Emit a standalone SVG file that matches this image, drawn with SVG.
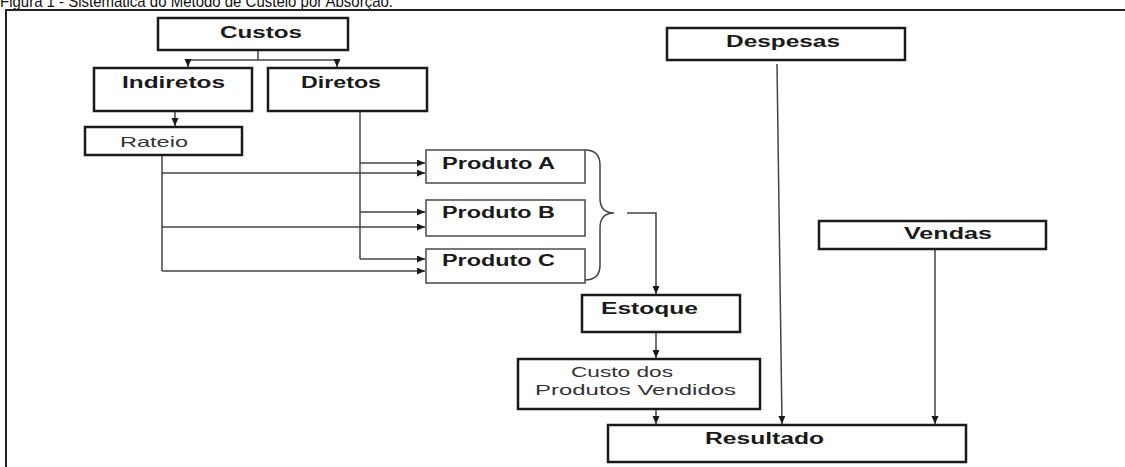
<svg xmlns="http://www.w3.org/2000/svg" width="1125" height="467" viewBox="0 0 1125 467">
<style>
.box{fill:#fff;stroke:#1a1a1a;stroke-width:2.5}
.pbox{fill:#fff;stroke:#555;stroke-width:1.6}
.b{font-family:"Liberation Sans",Arial,sans-serif;font-weight:bold;font-size:16px;fill:#1a1a1a}
.r{font-family:"Liberation Sans",Arial,sans-serif;font-size:15px;fill:#333}
.c{fill:none;stroke:#444;stroke-width:1.5}
</style>
<defs>
<marker id="ah" markerUnits="userSpaceOnUse" markerWidth="9" markerHeight="8" refX="8" refY="3.5" orient="auto">
<path d="M0,0 L8,3.5 L0,7 z" fill="#1a1a1a"/>
</marker>
</defs>
<rect width="1125" height="467" fill="#fff"/>
<text x="0" y="7" font-family="'Liberation Sans',Arial,sans-serif" font-size="17" fill="#111" textLength="393" lengthAdjust="spacingAndGlyphs">Figura 1 - Sistemática do Método de Custeio por Absorção.</text>
<path d="M6,467 V10 H1125" fill="none" stroke="#222" stroke-width="2"/>

<g id="connectors">
<path class="c" d="M258,50 V60 M188,60 H337"/>
<path class="c" d="M188,60 V67" marker-end="url(#ah)"/>
<path class="c" d="M337,60 V67" marker-end="url(#ah)"/>
<path class="c" d="M175,111 V126" marker-end="url(#ah)"/>
<path class="c" d="M162,155 V271"/>
<path class="c" d="M162,173 H425" marker-end="url(#ah)"/>
<path class="c" d="M162,227 H425" marker-end="url(#ah)"/>
<path class="c" d="M162,271 H425" marker-end="url(#ah)"/>
<path class="c" d="M360,111 V259"/>
<path class="c" d="M360,163 H425" marker-end="url(#ah)"/>
<path class="c" d="M360,212 H425" marker-end="url(#ah)"/>
<path class="c" d="M360,259 H425" marker-end="url(#ah)"/>
<path class="c" d="M585,150 Q600,150 600,165 V198 Q600,213 614,213 Q600,213 600,228 V265 Q600,280 585,280"/>
<path class="c" d="M627,213 H656 V294" marker-end="url(#ah)"/>
<path class="c" d="M656,332 V358" marker-end="url(#ah)"/>
<path class="c" d="M656,409 V424" marker-end="url(#ah)"/>
<path class="c" d="M777,64 L782,424" marker-end="url(#ah)"/>
<path class="c" d="M935,249 V424" marker-end="url(#ah)"/>
</g>

<g id="custos"><rect class="box" x="158" y="18" width="190" height="32"/><text class="b" x="220" y="38" textLength="82" lengthAdjust="spacingAndGlyphs">Custos</text></g>
<g id="indiretos"><rect class="box" x="94" y="68" width="158" height="43"/><text class="b" x="122" y="88" textLength="103" lengthAdjust="spacingAndGlyphs">Indiretos</text></g>
<g id="diretos"><rect class="box" x="268" y="68" width="159" height="43"/><text class="b" x="301" y="88" textLength="80" lengthAdjust="spacingAndGlyphs">Diretos</text></g>
<g id="rateio"><rect class="box" x="85" y="127" width="157" height="28"/><text class="r" x="120" y="147" font-size="16" textLength="68" lengthAdjust="spacingAndGlyphs">Rateio</text></g>
<g id="produto-a"><rect class="pbox" x="426" y="150" width="159" height="33"/><text class="b" x="442" y="169" textLength="113" lengthAdjust="spacingAndGlyphs">Produto A</text></g>
<g id="produto-b"><rect class="pbox" x="426" y="200" width="159" height="36"/><text class="b" x="442" y="218" textLength="113" lengthAdjust="spacingAndGlyphs">Produto B</text></g>
<g id="produto-c"><rect class="pbox" x="426" y="249" width="159" height="34"/><text class="b" x="442" y="266" textLength="113" lengthAdjust="spacingAndGlyphs">Produto C</text></g>
<g id="estoque"><rect class="box" x="582" y="295" width="158" height="37"/><text class="b" x="601" y="314" textLength="97" lengthAdjust="spacingAndGlyphs">Estoque</text></g>
<g id="cpv"><rect class="box" x="518" y="359" width="242" height="50"/><text class="r" x="571" y="377" textLength="102" lengthAdjust="spacingAndGlyphs">Custo dos</text><text class="r" x="535" y="395" textLength="201" lengthAdjust="spacingAndGlyphs">Produtos Vendidos</text></g>
<g id="resultado"><rect class="box" x="608" y="425" width="358" height="37"/><text class="b" x="705" y="444" textLength="119" lengthAdjust="spacingAndGlyphs">Resultado</text></g>
<g id="despesas"><rect class="box" x="667" y="28" width="238" height="32"/><text class="b" x="726" y="47" textLength="114" lengthAdjust="spacingAndGlyphs">Despesas</text></g>
<g id="vendas"><rect class="box" x="819" y="221" width="227" height="28"/><text class="b" x="904" y="239" textLength="88" lengthAdjust="spacingAndGlyphs">Vendas</text></g>
</svg>
